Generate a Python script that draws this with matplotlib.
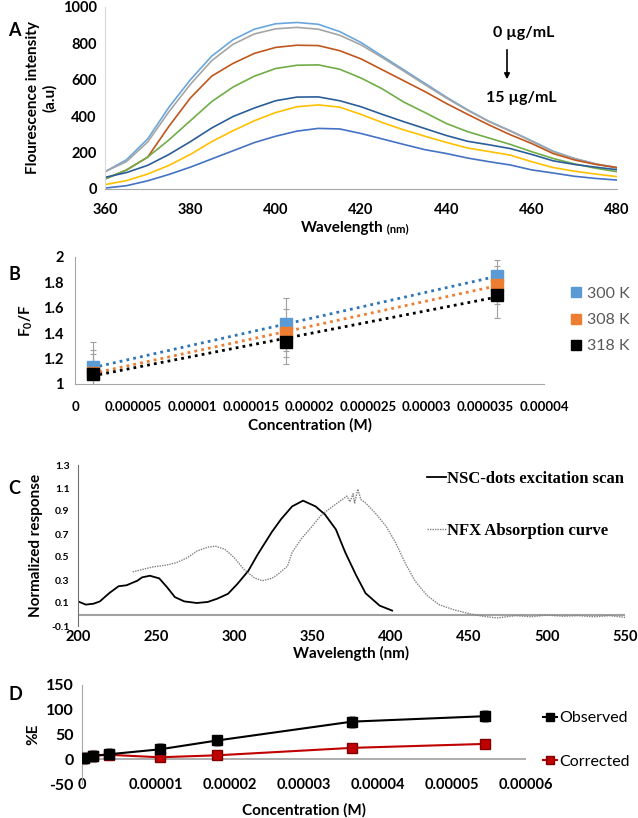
import numpy as np
import matplotlib.pyplot as plt
from matplotlib.offsetbox import TextArea, HPacker, AnchoredOffsetbox

plt.rcParams['font.family'] = ['Lato', 'DejaVu Sans']
plt.rcParams['mathtext.fontset'] = 'custom'
plt.rcParams['mathtext.rm'] = 'Lato'
plt.rcParams['mathtext.bf'] = 'Lato:bold'
plt.rcParams['axes.unicode_minus'] = False

# ---- panel A: emission spectra (0 -> 15 ug/mL)
wl = [360, 365, 370, 375, 380, 385, 390, 395, 400, 405, 410, 415, 420,
      425, 430, 435, 440, 445, 450, 455, 460, 465, 470, 475, 480]
spec_lightblue = [95, 160, 275, 450, 600, 730, 820, 878, 908, 915, 905, 865, 805,
                  730, 655, 580, 505, 435, 372, 320, 265, 208, 168, 138, 115]
spec_gray = [95, 150, 258, 425, 575, 705, 795, 852, 880, 888, 878, 845, 792,
             722, 648, 573, 500, 432, 370, 318, 262, 205, 167, 138, 118]
spec_brown = [55, 104, 175, 345, 500, 620, 690, 745, 778, 790, 788, 760, 715,
              655, 595, 535, 470, 410, 352, 298, 250, 195, 160, 135, 118]
spec_green = [55, 104, 175, 270, 375, 480, 560, 620, 662, 680, 682, 658, 610,
              550, 478, 420, 360, 315, 280, 245, 205, 168, 138, 114, 95]
spec_darkblue = [64, 90, 130, 190, 260, 335, 398, 445, 485, 505, 506, 485, 452,
                 410, 370, 332, 294, 262, 243, 222, 190, 155, 135, 120, 106]
spec_yellow = [24, 46, 82, 130, 190, 260, 320, 375, 420, 452, 462, 450, 410,
               365, 325, 290, 256, 225, 206, 186, 150, 118, 98, 82, 68]
spec_blue = [5, 18, 45, 80, 120, 165, 210, 255, 290, 318, 333, 330, 305,
             275, 245, 216, 195, 170, 150, 132, 105, 88, 70, 58, 49]
spectra = [spec_lightblue, spec_gray, spec_brown, spec_green,
           spec_darkblue, spec_yellow, spec_blue]
spec_colors = ['#6AA6DE', '#A5A5A5', '#C0561C', '#70AD47',
               '#2A5E99', '#FFC000', '#4472C4']

# ---- panel B: Stern-Volmer
conc_b = [1.5e-6, 1.8e-5, 3.6e-5]
f0f_300 = [1.13, 1.47, 1.85]
f0f_308 = [1.09, 1.40, 1.78]
f0f_318 = [1.08, 1.33, 1.70]
err_300 = [0.20, 0.21, 0.13]
err_308 = [0.18, 0.19, 0.15]
err_318 = [0.16, 0.17, 0.18]
temps = ['300 K', '308 K', '318 K']

# ---- panel C: overlap spectra
exc_wl = [200, 205, 210, 214, 220, 226, 231, 238, 241, 246, 252, 257, 262, 268,
          276, 283, 289, 296, 302, 309, 315, 324, 330, 337, 344, 352, 358, 365,
          371, 378, 384, 393, 401]
exc_val = [0.114, 0.086, 0.094, 0.114, 0.186, 0.246, 0.254, 0.294, 0.323, 0.337,
           0.314, 0.237, 0.151, 0.114, 0.100, 0.109, 0.137, 0.180, 0.266, 0.380,
           0.523, 0.717, 0.830, 0.940, 0.990, 0.940, 0.870, 0.740, 0.540, 0.340,
           0.185, 0.077, 0.034]
abs_wl = [235, 242, 248, 257, 263, 270, 276, 283, 288, 294, 300, 306, 313, 318,
          324, 328, 334, 337, 343, 350, 356, 363, 369, 372, 374, 376, 377, 379,
          381, 384, 390, 397, 403, 410, 416, 423, 431, 440, 451, 459, 468, 480,
          490, 500, 510, 520, 530, 540, 550]
abs_val = [0.371, 0.394, 0.414, 0.431, 0.451, 0.494, 0.551, 0.586, 0.594, 0.566,
           0.494, 0.394, 0.317, 0.294, 0.314, 0.351, 0.420, 0.540, 0.660, 0.770,
           0.870, 0.940, 1.000, 1.030, 0.980, 1.050, 0.970, 1.090, 1.000, 0.970,
           0.885, 0.770, 0.630, 0.430, 0.285, 0.170, 0.086, 0.043, 0.005, -0.015,
           -0.030, -0.010, -0.020, -0.005, -0.015, -0.010, -0.020, -0.010, -0.025]

# ---- panel D: inner filter effect
conc_d = [3e-7, 1.5e-6, 3.6e-6, 1.05e-5, 1.83e-5, 3.65e-5, 5.45e-5]
obs = [2, 7, 10, 20, 38, 76, 87]
obs_err = [12, 12, 12, 13, 12, 12, 12]
cor = [2, 7, 9, 4, 8, 23, 31]
cor_err = [12, 12, 11, 5, 6, 6, 5]

W, H = 638, 818
fig = plt.figure(figsize=(W / 100, H / 100), dpi=100)


def box(l, r, t, b):
    return [l / W, 1 - b / H, (r - l) / W, (b - t) / H]


# ===== A
axA = fig.add_axes(box(105, 617, 7, 189))
for s, c in zip(spectra, spec_colors):
    axA.plot(wl, s, color=c, lw=1.2)
axA.set_xlim(360, 480)
axA.set_ylim(0, 1000)
axA.set_xticks(range(360, 481, 20))
axA.set_yticks(range(0, 1001, 200))
for sp in ['top', 'right']:
    axA.spines[sp].set_visible(False)
axA.spines['left'].set_color('#D9D9D9')
axA.spines['bottom'].set_color('#A6A6A6')
axA.tick_params(length=0, labelsize=10.5, pad=10)
axA.tick_params(axis='y', pad=6)
for t in axA.get_xticklabels() + axA.get_yticklabels():
    t.set_fontweight('bold')
axA.set_ylabel('Flourescence intensity\n(a.u)', fontsize=11, fontweight='bold', labelpad=4)
xl = HPacker(children=[TextArea('Wavelength', textprops=dict(fontsize=11, fontweight='bold')),
                       TextArea(' (nm)', textprops=dict(fontsize=8, fontweight='bold'))],
             align='baseline', pad=0, sep=0)
axA.add_artist(AnchoredOffsetbox(loc='center', child=xl, frameon=False,
                                 bbox_to_anchor=(355 / W, 1 - 228 / H),
                                 bbox_transform=fig.transFigure, borderpad=0))
fig.text(524 / W, 1 - 33 / H, '0 µg/mL', fontsize=11.5, fontweight='bold', ha='center', va='center')
fig.text(521 / W, 1 - 98 / H, '15 µg/mL', fontsize=11.5, fontweight='bold', ha='center', va='center')
fig.add_artist(plt.Annotation('', xy=(507 / W, 1 - 82 / H), xytext=(507 / W, 1 - 47 / H),
                              xycoords='figure fraction',
                              arrowprops=dict(arrowstyle='-|>', color='black', lw=1.2,
                                              mutation_scale=8)))

# ===== B
axB = fig.add_axes(box(75, 544, 257, 384))
cols_b = ['#5B9BD5', '#ED7D31', '#000000']
trend_b = ['#2E75B6', '#ED7D31', '#000000']
for y, e, c, tc, lab in zip([f0f_300, f0f_308, f0f_318], [err_300, err_308, err_318],
                            cols_b, trend_b, temps):
    axB.errorbar(conc_b, y, yerr=e, fmt='none', ecolor='#A0A0A0', elinewidth=0.8,
                 capsize=2, capthick=0.8, zorder=2)
    k, b0 = np.polyfit(conc_b, y, 1)
    xx = np.array([conc_b[0], conc_b[-1]])
    axB.plot(xx, k * xx + b0, ls=(0, (1, 1.5)), color=tc, lw=2, zorder=3)
    axB.plot(conc_b, y, 's', color=c, ms=8, zorder=4, label=lab)
axB.set_xlim(0, 4e-5)
axB.set_ylim(1, 2)
axB.set_xticks(np.arange(0, 4.1e-5, 5e-6))
axB.set_xticklabels(['0', '0.000005', '0.00001', '0.000015', '0.00002', '0.000025',
                     '0.00003', '0.000035', '0.00004'])
axB.set_yticks([1, 1.2, 1.4, 1.6, 1.8, 2])
axB.set_yticklabels(['1', '1.2', '1.4', '1.6', '1.8', '2'])
for sp in ['top', 'right']:
    axB.spines[sp].set_visible(False)
axB.spines['left'].set_color('#A6A6A6')
axB.spines['bottom'].set_color('#A6A6A6')
axB.tick_params(length=0, labelsize=9.5, pad=12)
axB.tick_params(axis='y', labelsize=10.5, pad=8)
for t in axB.get_xticklabels() + axB.get_yticklabels():
    t.set_fontweight('bold')
axB.set_ylabel(r'F$_\mathbf{0}$/F', fontsize=11, fontweight='bold', labelpad=6)
axB.set_xlabel('Concentration (M)', fontsize=11, fontweight='bold', labelpad=4)
fig.legend(loc='center left', bbox_to_anchor=(563 / W, 1 - 320 / H), frameon=False,
           handles=axB.get_legend_handles_labels()[0], labels=temps,
           fontsize=11.5, labelcolor='#595959', handlelength=0.6, handletextpad=0.4,
           labelspacing=0.75, borderpad=0, markerscale=0.9)

# ===== C
axC = fig.add_axes(box(78, 625, 465, 626))
axC.plot(exc_wl, exc_val, color='black', lw=1.3, label='NSC-dots excitation scan')
axC.plot(abs_wl, abs_val, color='#808080', lw=1.0, ls=(0, (1, 0.8)), label='NFX Absorption curve')
axC.axhline(0, color='#A0A0A0', lw=1.5, zorder=0)
axC.set_xlim(200, 550)
axC.set_ylim(-0.1, 1.3)
axC.set_xticks(range(200, 551, 50))
axC.set_yticks([-0.1, 0.1, 0.3, 0.5, 0.7, 0.9, 1.1, 1.3])
axC.set_yticklabels(['-0.1', '0.1', '0.3', '0.5', '0.7', '0.9', '1.1', '1.3'])
for sp in ['top', 'right', 'bottom']:
    axC.spines[sp].set_visible(False)
axC.spines['left'].set_color('#707070')
axC.tick_params(length=0, labelsize=10.5, pad=3)
axC.tick_params(axis='y', labelsize=7.5, pad=6)
for t in axC.get_xticklabels() + axC.get_yticklabels():
    t.set_fontweight('bold')
axC.set_ylabel('Normalized response', fontsize=11, fontweight='bold', labelpad=6)
axC.set_xlabel('Wavelength (nm)', fontsize=11, fontweight='bold', labelpad=1)
fig.legend(loc='center left', bbox_to_anchor=(419 / W, 1 - 505 / H), frameon=False,
           handles=axC.get_legend_handles_labels()[0],
           labels=axC.get_legend_handles_labels()[1],
           prop=dict(family='Liberation Serif', weight='bold', size=12),
           handlelength=1.1, handletextpad=0.1, labelspacing=2.2, borderpad=0)

# ===== D
axD = fig.add_axes(box(82, 526, 685, 784))
axD.errorbar(conc_d, obs, yerr=obs_err, fmt='none', ecolor='#A0A0A0', elinewidth=0.8,
             capsize=2, capthick=0.8, zorder=2)
axD.errorbar(conc_d, cor, yerr=cor_err, fmt='none', ecolor='#A0A0A0', elinewidth=0.8,
             capsize=2, capthick=0.8, zorder=2)
axD.plot(conc_d, obs, '-s', color='black', lw=1.5, ms=7, zorder=4, label='Observed')
axD.plot(conc_d, cor, '-s', color='#C00000', mec='#7F0000', lw=1.5, ms=7, zorder=3,
         label='Corrected')
axD.axhline(0, color='#A0A0A0', lw=1.2, zorder=0)
axD.set_xlim(0, 6e-5)
axD.set_ylim(-50, 150)
axD.set_xticks(np.arange(0, 6.1e-5, 1e-5))
axD.set_xticklabels(['0', '0.00001', '0.00002', '0.00003', '0.00004', '0.00005', '0.00006'])
axD.set_yticks([-50, 0, 50, 100, 150])
for sp in ['top', 'right', 'bottom']:
    axD.spines[sp].set_visible(False)
axD.spines['left'].set_color('#A6A6A6')
axD.tick_params(length=0, labelsize=10.5, pad=-4)
axD.tick_params(axis='y', labelsize=11.5, pad=6)
for t in axD.get_xticklabels() + axD.get_yticklabels():
    t.set_fontweight('bold')
axD.set_ylabel('%E', fontsize=11, fontweight='bold', labelpad=4)
axD.set_xlabel('Concentration (M)', fontsize=11, fontweight='bold', labelpad=8)
fig.legend(loc='center left', bbox_to_anchor=(535 / W, 1 - 740 / H), frameon=False,
           handles=axD.get_legend_handles_labels()[0],
           labels=axD.get_legend_handles_labels()[1],
           fontsize=11.5, handlelength=0.9, handletextpad=0.1, labelspacing=1.85,
           borderpad=0, markerscale=0.9)

# panel letters
for lab, yy in zip('ABCD', [30, 275, 489, 695]):
    fig.text(8 / W, 1 - yy / H, lab, fontsize=13, fontweight='bold', va='center')

fig.savefig('out.png', dpi=100)
